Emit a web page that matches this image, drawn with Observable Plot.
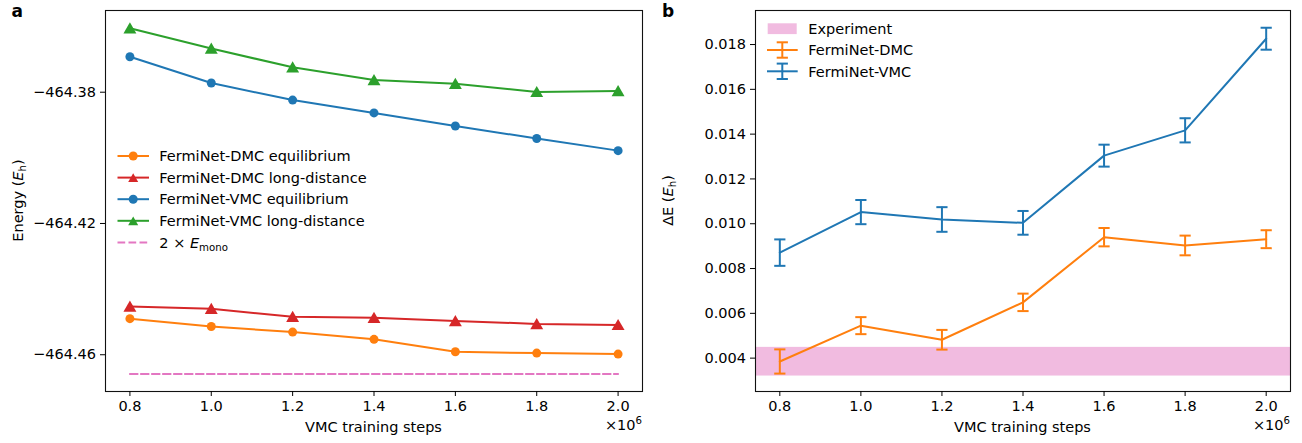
<!DOCTYPE html>
<html><head><meta charset="utf-8">
<script src="https://cdn.jsdelivr.net/npm/d3@7"></script>
<script src="https://cdn.jsdelivr.net/npm/@observablehq/plot@0.6"></script>
<style>
body{margin:0;background:#fff;}
#wrap{position:relative;width:1302px;height:443px;overflow:hidden;}
#a,#b{position:absolute;top:0;}
#a{left:0;} #b{left:650px;}
svg{overflow:visible;}
</style></head><body><div id="wrap"><div id="a"></div><div id="b"></div></div>
<script>
// ---- data ----
const steps = [0.8, 1.0, 1.2, 1.4, 1.6, 1.8, 2.0];
const xTicks = [0.8, 1.0, 1.2, 1.4, 1.6, 1.8, 2.0];
const xDomain = [0.74, 2.06];

const dmcEquilibrium = [-464.4490, -464.4514, -464.4531, -464.4553, -464.4591, -464.4595, -464.4598];
const dmcLongDistance = [-464.4453, -464.4460, -464.4484, -464.4487, -464.4497, -464.4506, -464.4509];
const vmcEquilibrium = [-464.3692, -464.3772, -464.3824, -464.3863, -464.3903, -464.3941, -464.3978];
const vmcLongDistance = [-464.3605, -464.3667, -464.3724, -464.3763, -464.3774, -464.3799, -464.3796];
const twoEmono = -464.4659;
const energyTicks = [-464.38, -464.42, -464.46];
const energyDomain = [-464.4712, -464.3551];

const dmcGap = [0.00385, 0.00545, 0.00482, 0.00649, 0.00940, 0.00903, 0.00931];
const dmcGapErr = [0.00054, 0.00038, 0.00044, 0.00039, 0.00041, 0.00044, 0.00040];
const vmcGap = [0.00871, 0.01052, 0.01019, 0.01004, 0.01304, 0.01417, 0.01826];
const vmcGapErr = [0.00059, 0.00054, 0.00055, 0.00053, 0.00049, 0.00054, 0.00049];
const experimentLow = 0.00320;
const experimentHigh = 0.00448;
const gapTicks = [0.004, 0.006, 0.008, 0.010, 0.012, 0.014, 0.016, 0.018];
const gapDomain = [0.00251, 0.01952];

// ---- styles ----
const FONT = '"DejaVu Sans", sans-serif';
const FS = 14.5;
const baseStyle = {fontFamily: FONT, fontSize: FS + "px", color: "#000", background: "transparent", overflow: "visible"};
const C = {orange: "#ff7f0e", red: "#d62728", blue: "#1f77b4", green: "#2ca02c", pink: "#e377c2"};
const capSymbol = {draw(ctx) { ctx.moveTo(-5.6, 0); ctx.lineTo(5.6, 0); }};
const minus = d => (d < 0 ? "\u2212" : "") + Math.abs(d).toFixed(2);

// ---- panel a ----
const seriesA = [
  {name: "FermiNet-DMC equilibrium", values: dmcEquilibrium, color: C.orange, symbol: "circle"},
  {name: "FermiNet-DMC long-distance", values: dmcLongDistance, color: C.red, symbol: "triangle"},
  {name: "FermiNet-VMC equilibrium", values: vmcEquilibrium, color: C.blue, symbol: "circle"},
  {name: "FermiNet-VMC long-distance", values: vmcLongDistance, color: C.green, symbol: "triangle"}
];
const dotOpts = s => s.symbol === "circle" ? {r: 4.5, dy: 0} : {r: 4.8, dy: 1.5};

const plotA = Plot.plot({
  width: 650, height: 443,
  marginLeft: 105, marginRight: 8, marginTop: 10, marginBottom: 52,
  style: baseStyle,
  x: {domain: xDomain},
  y: {domain: energyDomain},
  marks: [
    ...seriesA.flatMap(s => [
      Plot.line(steps, {x: d => d, y: (d, i) => s.values[i], stroke: s.color, strokeWidth: 2}),
      Plot.dot(steps, {x: d => d, y: (d, i) => s.values[i], symbol: s.symbol, fill: s.color, stroke: "none", ...dotOpts(s)})
    ]),
    Plot.line(steps, {x: d => d, y: () => twoEmono, stroke: C.pink, strokeWidth: 2, strokeDasharray: "7.7,3.3"}),
    Plot.frame({stroke: "#111", strokeWidth: 1.1}),
    Plot.axisX({ticks: xTicks, tickFormat: d => d.toFixed(1), tickSize: 5, tickPadding: 4, label: null, fontSize: FS}),
    Plot.axisY({ticks: energyTicks, tickFormat: minus, tickSize: 5, tickPadding: 4.5, label: null, fontSize: FS})
  ]
});
document.getElementById("a").append(plotA);

// ---- panel b ----
const seriesB = [
  {name: "FermiNet-DMC", values: dmcGap, err: dmcGapErr, color: C.orange},
  {name: "FermiNet-VMC", values: vmcGap, err: vmcGapErr, color: C.blue}
];
const plotB = Plot.plot({
  width: 652, height: 443,
  marginLeft: 105, marginRight: 12, marginTop: 10, marginBottom: 52,
  style: baseStyle,
  x: {domain: xDomain},
  y: {domain: gapDomain},
  marks: [
    Plot.rect([{lo: experimentLow, hi: experimentHigh}], {x1: () => xDomain[0], x2: () => xDomain[1], y1: "lo", y2: "hi", fill: C.pink, fillOpacity: 0.5}),
    ...seriesB.flatMap(s => [
      Plot.line(steps, {x: d => d, y: (d, i) => s.values[i], stroke: s.color, strokeWidth: 2}),
      Plot.ruleX(steps, {x: d => d, y1: (d, i) => s.values[i] - s.err[i], y2: (d, i) => s.values[i] + s.err[i], stroke: s.color, strokeWidth: 2}),
      Plot.dot(steps, {x: d => d, y: (d, i) => s.values[i] + s.err[i], symbol: capSymbol, stroke: s.color, fill: "none", strokeWidth: 2}),
      Plot.dot(steps, {x: d => d, y: (d, i) => s.values[i] - s.err[i], symbol: capSymbol, stroke: s.color, fill: "none", strokeWidth: 2})
    ]),
    Plot.frame({stroke: "#111", strokeWidth: 1.1}),
    Plot.axisX({ticks: xTicks, tickFormat: d => d.toFixed(1), tickSize: 5, tickPadding: 4, label: null, fontSize: FS}),
    Plot.axisY({ticks: gapTicks, tickFormat: d => d.toFixed(3), tickSize: 5, tickPadding: 4.5, label: null, fontSize: FS})
  ]
});
document.getElementById("b").append(plotB);

// ---- annotations (labels, legends) ----
function addText(svg, x, y, parts, opts = {}) {
  const t = d3.select(svg).append("text")
    .attr("font-family", FONT).attr("font-size", opts.size || FS)
    .attr("fill", "#000")
    .attr("text-anchor", opts.anchor || "start")
    .attr("font-weight", opts.weight || null)
    .attr("transform", `translate(${x},${y})` + (opts.rotate ? ` rotate(${opts.rotate})` : ""));
  if (opts.dy) t.attr("dy", opts.dy);
  parts.forEach(p => {
    if (typeof p === "string") t.append("tspan").text(p);
    else {
      const ts = t.append("tspan").text(p.text);
      if (p.italic) ts.attr("font-style", "italic");
      if (p.size) ts.attr("font-size", p.size);
      if (p.dy) ts.attr("dy", p.dy);
    }
  });
  return t;
}
const Eh = [{text: "E", italic: true}, {text: "h", size: 10.2, dy: 3}, {text: ")", dy: -3}];

// panel letters
addText(plotA, 11.5, 16.8, ["a"], {weight: "bold", size: 17});
addText(plotB, 12, 16.8, ["b"], {weight: "bold", size: 17});
// y labels
addText(plotA, 22.5, 200.5, ["Energy (", ...Eh], {anchor: "middle", rotate: -90});
addText(plotB, 22.5, 200.5, ["\u0394E (", ...Eh], {anchor: "middle", rotate: -90});
// x labels
addText(plotA, (105 + 642) / 2, 431.5, ["VMC training steps"], {anchor: "middle"});
addText(plotB, (105 + 640) / 2, 431.5, ["VMC training steps"], {anchor: "middle"});
addText(plotA, 642, 430, ["\u00d710", {text: "6", size: 10.2, dy: -6}], {anchor: "end"});
addText(plotB, 640, 430, ["\u00d710", {text: "6", size: 10.2, dy: -6}], {anchor: "end"});

// legend a
{
  const g = d3.select(plotA).append("g");
  const rowY = i => 156 + i * 21.6;
  seriesA.forEach((s, i) => {
    const y = rowY(i);
    g.append("line").attr("x1", 117.5).attr("x2", 149).attr("y1", y).attr("y2", y).attr("stroke", s.color).attr("stroke-width", 2);
    const sym = s.symbol === "circle" ? d3.symbolCircle : d3.symbolTriangle2;
    const r = dotOpts(s).r;
    g.append("path").attr("d", d3.symbol(sym, Math.PI * r * r)()).attr("fill", s.color)
      .attr("transform", `translate(133.2,${y + dotOpts(s).dy})`);
    addText(plotA, 159.3, y, [s.name], {dy: "0.36em"});
  });
  const y = rowY(4);
  g.append("line").attr("x1", 117.5).attr("x2", 149).attr("y1", y).attr("y2", y).attr("stroke", C.pink).attr("stroke-width", 2).attr("stroke-dasharray", "7.7,3.3");
  addText(plotA, 159.3, y, ["2 \u00d7 ", {text: "E", italic: true}, {text: "mono", size: 10.2, dy: 3}], {dy: "0.36em"});
}
// legend b
{
  const g = d3.select(plotB).append("g");
  const rowY = i => 28.7 + i * 21.3;
  g.append("rect").attr("x", 117.7).attr("y", rowY(0) - 5.4).attr("width", 29).attr("height", 10.8).attr("fill", C.pink).attr("fill-opacity", 0.5);
  addText(plotB, 158.3, rowY(0), ["Experiment"], {dy: "0.36em"});
  seriesB.forEach((s, i) => {
    const y = rowY(i + 1);
    g.append("line").attr("x1", 117).attr("x2", 147.7).attr("y1", y).attr("y2", y).attr("stroke", s.color).attr("stroke-width", 2);
    g.append("line").attr("x1", 132.3).attr("x2", 132.3).attr("y1", y - 7.7).attr("y2", y + 7.7).attr("stroke", s.color).attr("stroke-width", 2);
    [-7.7, 7.7].forEach(o => g.append("line").attr("x1", 126.7).attr("x2", 137.9).attr("y1", y + o).attr("y2", y + o).attr("stroke", s.color).attr("stroke-width", 2));
    addText(plotB, 158.3, y, [s.name], {dy: "0.36em"});
  });
}
</script>
</body></html>
